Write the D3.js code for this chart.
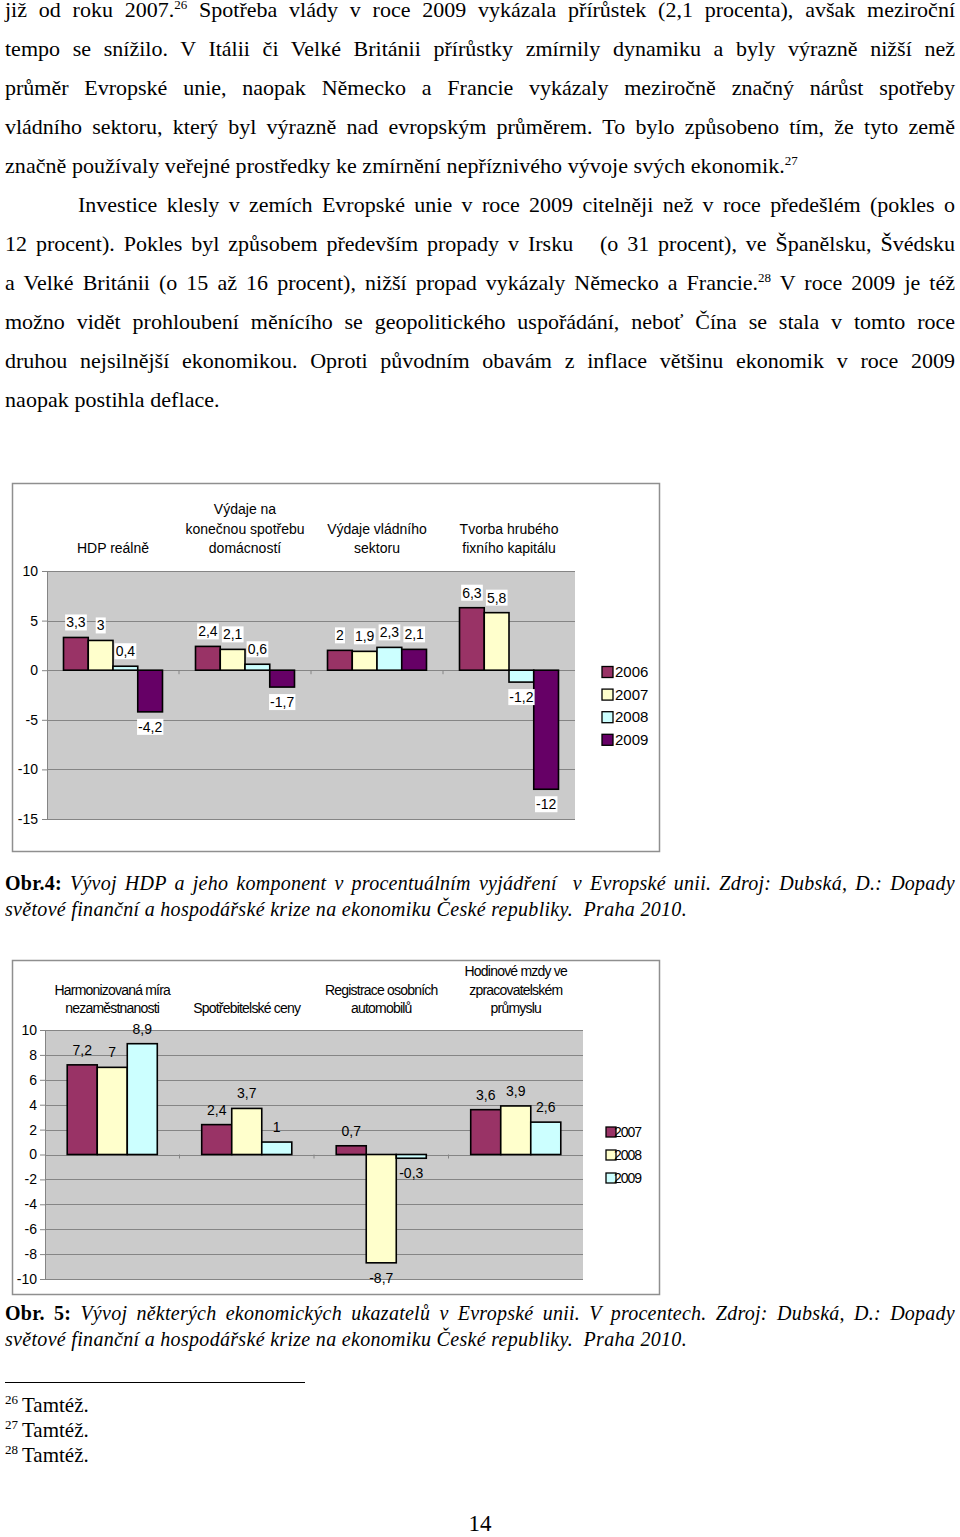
<!DOCTYPE html>
<html><head><meta charset="utf-8">
<script src="https://cdn.jsdelivr.net/npm/d3@7"></script>
<style>
html,body{margin:0;padding:0;background:#fff}
body{width:960px;height:1537px;position:relative;overflow:hidden}
svg{position:absolute;left:0;top:0}
.ln{position:absolute;left:5px;width:950px;font-family:"Liberation Serif","Times New Roman",serif;font-size:22px;line-height:30px;height:30px;color:#000;white-space:nowrap}
.j{white-space:normal;text-align:justify;text-align-last:justify}
.cap{font-style:italic;font-size:20px}
.sup{font-size:13px;position:relative;top:-8px}
.fn{font-size:21px}
.fsup{font-size:13px;position:relative;top:-8px;margin-right:4px}
</style></head><body>
<script>
// ---------- DATA ----------
const bodyLines = [
  "již od roku 2007.<span class='sup'>26</span> Spotřeba vlády v roce 2009 vykázala přírůstek (2,1 procenta), avšak meziroční",
  "tempo se snížilo. V Itálii či Velké Británii přírůstky zmírnily dynamiku a byly výrazně nižší než",
  "průměr Evropské unie, naopak Německo a Francie vykázaly meziročně značný nárůst spotřeby",
  "vládního sektoru, který byl výrazně nad evropským průměrem. To bylo způsobeno tím, že tyto země",
  "značně používaly  veřejné prostředky ke zmírnění nepříznivého vývoje svých ekonomik.<span class='sup'>27</span>",
  "Investice klesly v zemích Evropské unie  v roce 2009 citelněji než v roce předešlém (pokles o",
  "12 procent). Pokles byl způsobem především propady v Irsku &nbsp; (o 31 procent), ve  Španělsku, Švédsku",
  "a Velké Británii (o 15 až 16 procent), nižší propad vykázaly Německo a Francie.<span class='sup'>28</span> V roce 2009 je též",
  "možno vidět prohloubení měnícího se geopolitického uspořádání, neboť Čína se stala v tomto roce",
  "druhou nejsilnější ekonomikou.  Oproti původním obavám z inflace většinu ekonomik v roce 2009",
  "naopak postihla deflace."
];
const bodyJustified = [true,true,true,true,false,true,true,true,true,true,false];

const caption1 = ["<b style='font-style:normal'>Obr.4:</b> Vývoj HDP a jeho komponent v procentuálním vyjádření &nbsp;v Evropské unii. Zdroj: Dubská, D.: Dopady",
                  "světové finanční a hospodářské krize na ekonomiku České republiky. &nbsp;Praha 2010."];
const caption2 = ["<b style='font-style:normal'>Obr. 5:</b> Vývoj některých ekonomických ukazatelů v Evropské unii. V procentech. Zdroj: Dubská, D.: Dopady",
                  "světové finanční a hospodářské krize na ekonomiku České republiky. &nbsp;Praha 2010."];
const footnoteNums = ["26","27","28"];
const footnoteText = ["Tamtéž.","Tamtéž.","Tamtéž."];
const pageNumber = "14";

// Chart 1 (Obr. 4)
const cats1 = [["HDP reálně"],["Výdaje na","konečnou spotřebu","domácností"],["Výdaje vládního","sektoru"],["Tvorba hrubého","fixního kapitálu"]];
const years1 = ["2006","2007","2008","2009"];
const c1_2006 = [3.3, 2.4, 2, 6.3];
const c1_2007 = [3, 2.1, 1.9, 5.8];
const c1_2008 = [0.4, 0.6, 2.3, -1.2];
const c1_2009 = [-4.2, -1.7, 2.1, -12];
const ticks1 = [-15,-10,-5,0,5,10];

// Chart 2 (Obr. 5)
const cats2 = [["Harmonizovaná míra","nezaměstnanosti"],["Spotřebitelské ceny"],["Registrace osobních","automobilů"],["Hodinové mzdy ve","zpracovatelském","průmyslu"]];
const years2 = ["2007","2008","2009"];
const c2_2007 = [7.2, 2.4, 0.7, 3.6];
const c2_2008 = [7, 3.7, -8.7, 3.9];
const c2_2009 = [8.9, 1, -0.3, 2.6];
const ticks2 = [-10,-8,-6,-4,-2,0,2,4,6,8,10];

const palette = ["#993366","#ffffcc","#ccffff","#660066"];

// ---------- TEXT ----------
const body = d3.select("body");
function line(html, baseline, cls, left, width) {
  return body.append("div").attr("class","ln "+cls)
    .style("top",(baseline-22)+"px").style("left",left+"px").style("width",width+"px").html(html);
}
const bodyBase = [17,56,95,134,173,212,251,290,329,368,407];
const bodyDivs = bodyLines.map((t,i)=>{
  const left = i===5 ? 78 : 5;
  return line(t, bodyBase[i], bodyJustified[i] ? "j":"", left, 955-left).node();
});
const capDivs = [
  line(caption1[0], 890, "j cap", 5, 950).node(),
  line(caption1[1], 916, "cap", 5, 950).node(),
  line(caption2[0], 1320, "j cap", 5, 950).node(),
  line(caption2[1], 1346, "cap", 5, 950).node()
];
footnoteText.forEach((t,i)=>{
  line("<span class='fsup'>"+footnoteNums[i]+"</span>"+t, 1412+i*25, "fn", 5, 400);
});
body.append("div").attr("class","ln").style("top",(1533-24)+"px").style("left","0px").style("width","960px")
  .style("text-align","center").style("font-size","23px").text(pageNumber);

// measure natural width of a line
function measure(el){
  const span = document.createElement("span");
  span.style.whiteSpace = "nowrap";
  span.innerHTML = el.innerHTML; el.innerHTML=""; el.appendChild(span);
  const w = span.getBoundingClientRect().width;
  const n = span.textContent.length;
  el.innerHTML = span.innerHTML;
  return {w, n};
}
function fitGroup(divs, refIdx, target, justified){
  const m = measure(divs[refIdx]);
  const ls = (target - m.w)/m.n;
  divs.forEach((d,i)=>{
    d.style.letterSpacing = ls+"px";
    if(justified[i]){
      const mm = measure(d);
      const avail = parseFloat(d.style.width) - 6;
      if(mm.w > avail) d.style.letterSpacing = (ls - (mm.w-avail)/mm.n)+"px";
    }
  });
}
fitGroup(bodyDivs, 4, 793, bodyJustified);
fitGroup(capDivs, 1, 682, [true,false,true,false]);

// ---------- SVG ----------
const svg = body.append("svg").attr("width",960).attr("height",1537);
svg.append("line").attr("x1",5).attr("x2",305).attr("y1",1382.5).attr("y2",1382.5).attr("stroke","#000").attr("stroke-width",1);

function drawChart(cfg){
  const g = svg.append("g");
  g.append("rect").attr("x",cfg.frame[0]+0.5).attr("y",cfg.frame[1]+0.5)
    .attr("width",cfg.frame[2]-cfg.frame[0]).attr("height",cfg.frame[3]-cfg.frame[1])
    .attr("fill","#fff").attr("stroke","#8f8f8f").attr("stroke-width",1.5);
  const y = d3.scaleLinear().domain(cfg.domain).range([cfg.plot.bottom, cfg.plot.top]);
  const x0 = d3.scaleBand().domain(d3.range(cfg.cats.length)).range([cfg.plot.left, cfg.plot.right]);
  const x1 = d3.scaleBand().domain(d3.range(cfg.series.length)).range([0, x0.bandwidth()]).paddingOuter(cfg.outerPad);
  g.append("rect").attr("x",cfg.plot.left).attr("y",y(cfg.domain[1]))
    .attr("width",cfg.plot.right-cfg.plot.left).attr("height",y(cfg.domain[0])-y(cfg.domain[1]))
    .attr("fill","#cbcbcb");
  g.selectAll(".grid").data(cfg.ticks).join("line")
    .attr("x1",cfg.plot.left).attr("x2",cfg.plot.right)
    .attr("y1",d=>Math.round(y(d))+0.5).attr("y2",d=>Math.round(y(d))+0.5)
    .attr("stroke","#858585").attr("stroke-width",1.2);
  const ax = g.append("g").attr("transform",`translate(${cfg.plot.left},0)`)
    .call(d3.axisLeft(y).tickValues(cfg.ticks).tickFormat(d=>String(d)).tickSize(5).tickSizeOuter(0).tickPadding(cfg.tickPad));
  ax.select(".domain").attr("stroke","#858585");
  ax.selectAll(".tick line").attr("stroke","#858585");
  ax.selectAll("text").attr("font-family","'Liberation Sans',Arial,sans-serif").attr("font-size",14).attr("fill","#000");
  g.selectAll(".ctick").data(d3.range(1,cfg.cats.length)).join("line")
    .attr("x1",d=>x0(d)).attr("x2",d=>x0(d)).attr("y1",y(0)).attr("y2",y(0)+4)
    .attr("stroke","#858585");
  cfg.cats.forEach((lines,i)=>{
    const cx = x0(i)+x0.bandwidth()/2;
    lines.forEach((t,k)=>{
      g.append("text").attr("x",cx).attr("y",cfg.titleBase-(lines.length-1-k)*cfg.titleStep)
        .attr("text-anchor","middle").attr("font-family","'Liberation Sans',Arial,sans-serif")
        .attr("font-size",cfg.titleSize).attr("letter-spacing",cfg.titleLS).attr("fill","#000").text(t);
    });
  });
  cfg.series.forEach((vals,s)=>{
    const sg = g.append("g");
    sg.selectAll("rect").data(vals).join("rect")
      .attr("x",(d,i)=>x0(i)+x1(s)).attr("width",x1.bandwidth())
      .attr("y",d=>y(Math.max(0,d))).attr("height",d=>Math.abs(y(d)-y(0)))
      .attr("fill",palette[s]).attr("stroke","#000").attr("stroke-width",1.6);
  });
  cfg.series.forEach((vals,s)=>{
    vals.forEach((v,i)=>{
      const cx = x0(i)+x1(s)+x1.bandwidth()/2;
      const cy = v>=0 ? y(v)-cfg.labOff : y(v)+cfg.labOff;
      const lg = g.append("g");
      const tx = lg.append("text").attr("x",cx).attr("y",cy+5).attr("text-anchor","middle")
        .attr("font-family","'Liberation Sans',Arial,sans-serif").attr("font-size",14).attr("fill","#000")
        .text(String(v).replace(".",","));
      if(cfg.labBox){
        const b = tx.node().getBBox();
        lg.insert("rect","text").attr("x",b.x-1).attr("y",b.y).attr("width",b.width+2).attr("height",b.height).attr("fill","#fff");
      }
    });
  });
  cfg.years.forEach((yr,s)=>{
    const ly = cfg.legend.y + s*cfg.legend.step;
    g.append("rect").attr("x",cfg.legend.x).attr("y",ly-cfg.legend.sz/2).attr("width",cfg.legend.sz).attr("height",cfg.legend.sz)
      .attr("fill",palette[s]).attr("stroke","#000").attr("stroke-width",1.3);
    g.append("text").attr("x",cfg.legend.tx).attr("y",ly+5).attr("font-family","'Liberation Sans',Arial,sans-serif")
      .attr("font-size",cfg.legend.fs).attr("letter-spacing",cfg.legend.ls).attr("fill","#000").text(yr);
  });
}

drawChart({
  frame:[12,483,659,851], plot:{left:47,right:575,top:571,bottom:819},
  domain:[-15,10], ticks:ticks1, tickPad:4, cats:cats1, years:years1,
  series:[c1_2006,c1_2007,c1_2008,c1_2009], outerPad:0.667,
  titleBase:553, titleStep:19.5, titleSize:14, titleLS:0,
  labOff:15, labBox:true,
  legend:{x:602,tx:615,y:672,step:22.6,sz:11,ls:0,fs:15}
});
drawChart({
  frame:[12,960,659,1294], plot:{left:45,right:583,top:1030,bottom:1279},
  domain:[-10,10], ticks:ticks2, tickPad:3, cats:cats2, years:years2,
  series:[c2_2007,c2_2008,c2_2009], outerPad:0.74,
  titleBase:1013, titleStep:18.5, titleSize:14, titleLS:-0.8,
  labOff:15, labBox:false,
  legend:{x:606,tx:614,y:1132,step:23,sz:10,ls:-1,fs:14}
});
</script>
</body></html>
